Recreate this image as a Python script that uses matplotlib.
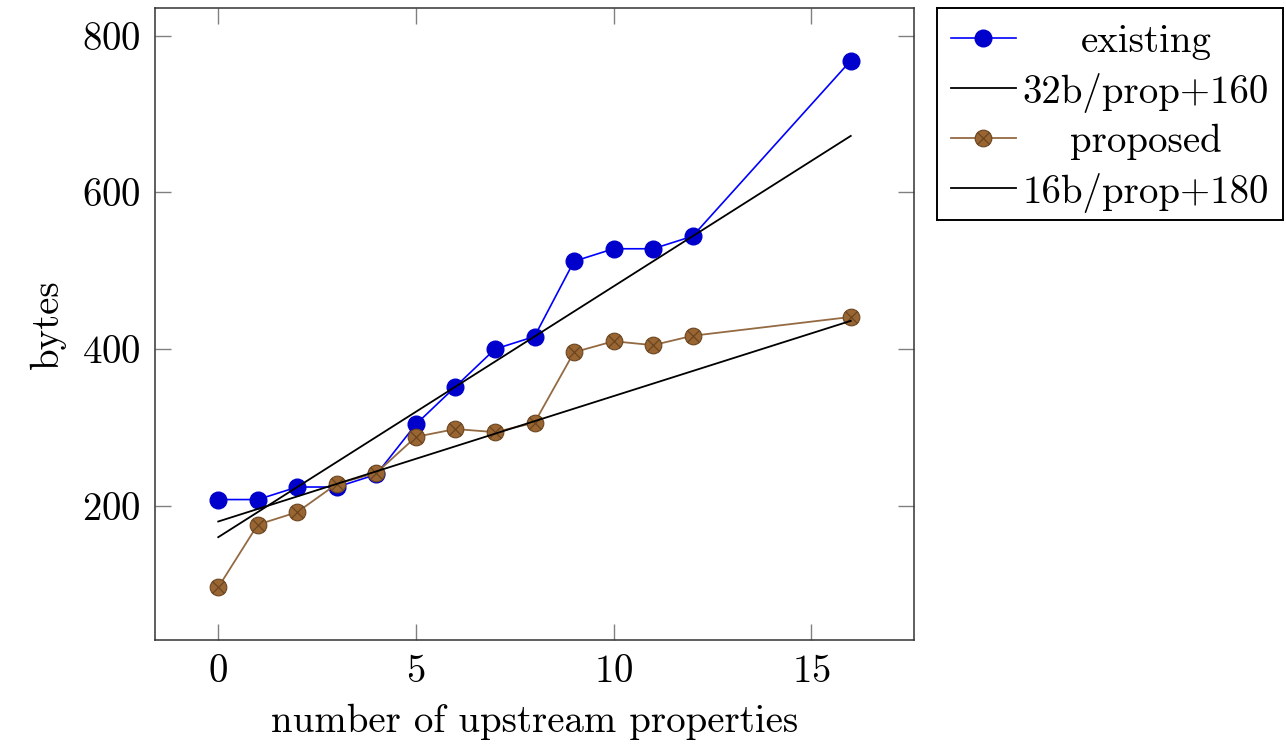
import numpy as np
import matplotlib
matplotlib.use("Agg")
import matplotlib.pyplot as plt


# ==========================================
# Data
# ==========================================

props = [0, 1, 2, 3, 4, 5, 6, 7, 8, 9, 10, 11, 12, 16]

existing_bytes = [208, 208, 224, 224, 240, 304, 352, 400, 416, 512, 528, 528, 544, 768]
proposed_bytes = [96, 176, 192, 228, 242, 288, 298, 294, 306, 396, 410, 405, 417, 441]

# linear fits drawn over the data range
fit_existing = (32, 160)   # slope, intercept
fit_proposed = (16, 180)

legend_labels = ["existing", "32b/prop+160", "proposed", "16b/prop+180"]


# ==========================================
# Style
# ==========================================

BLUE_LINE = "#0000ff"
BLUE_FILL = "#0000cc"
BROWN_LINE = "#946a42"
BROWN_FILL = "#996633"
BROWN_EDGE = "#6b4520"

plt.rcParams["font.family"] = "cmr10"
plt.rcParams["axes.formatter.use_mathtext"] = True
plt.rcParams["font.size"] = 28

W, H = 1286, 745


# ==========================================
# Main plot
# ==========================================

fig = plt.figure(figsize=(W / 100, H / 100), dpi=100)
ax = fig.add_axes([155 / W, 1 - 640 / H, (914 - 155) / W, (640 - 8) / H])

x = np.array(props)
ax.plot(x, existing_bytes, color=BLUE_LINE, lw=1.2, marker="o",
        markersize=12, markerfacecolor=BLUE_FILL, markeredgecolor=BLUE_FILL, zorder=3)

xf = np.array([props[0], props[-1]])
ax.plot(xf, fit_existing[0] * xf + fit_existing[1], color="black", lw=1.3, zorder=4)

ax.plot(x, proposed_bytes, color=BROWN_LINE, lw=1.3, marker="o",
        markersize=12, markerfacecolor=BROWN_FILL, markeredgecolor=BROWN_EDGE,
        markeredgewidth=0.8, zorder=5)
ax.plot(x, proposed_bytes, ls="none", marker="x", markersize=8,
        markeredgecolor=BROWN_EDGE, markeredgewidth=0.9, zorder=6)

ax.plot(xf, fit_proposed[0] * xf + fit_proposed[1], color="black", lw=1.3, zorder=7)

# pgfplots-style enlarged limits (10% each side)
xr = props[-1] - props[0]
ax.set_xlim(props[0] - 0.1 * xr, props[-1] + 0.1 * xr)
all_y = existing_bytes + proposed_bytes
yr = max(all_y) - min(all_y)
ax.set_ylim(min(all_y) - 0.1 * yr, max(all_y) + 0.1 * yr)

ax.set_xticks([0, 5, 10, 15])
ax.set_yticks([200, 400, 600, 800])
ax.tick_params(direction="in", length=11.5, width=1.0, color="#808080",
               top=True, right=True, pad=10)
for sp in ax.spines.values():
    sp.set_linewidth(1.1)
    sp.set_color("#333333")

ax.set_xlabel("number of upstream properties", labelpad=10)
ax.set_ylabel("bytes", labelpad=12)


# ==========================================
# Legend (pgfplots style, centred text)
# ==========================================

lax = fig.add_axes([937 / W, 1 - 220 / H, (1283 - 937) / W, (220 - 8) / H])
lax.set_xlim(0, 346)
lax.set_ylim(212, 0)
lax.set_xticks([])
lax.set_yticks([])
for sp in lax.spines.values():
    sp.set_linewidth(1.4)
    sp.set_color("black")

rows = [30, 80, 130, 180]
hx = np.array([14, 79])
lax.plot(hx, [rows[0]] * 2, color=BLUE_LINE, lw=1.2)
lax.plot([46], [rows[0]], marker="o", markersize=12, color=BLUE_FILL)
lax.plot(hx, [rows[1]] * 2, color="black", lw=1.3)
lax.plot(hx, [rows[2]] * 2, color=BROWN_LINE, lw=1.3)
lax.plot([46], [rows[2]], marker="o", markersize=12, markerfacecolor=BROWN_FILL,
         markeredgecolor=BROWN_EDGE, markeredgewidth=0.8)
lax.plot([46], [rows[2]], marker="x", markersize=8, markeredgecolor=BROWN_EDGE,
         markeredgewidth=0.9)
lax.plot(hx, [rows[3]] * 2, color="black", lw=1.3)

for ry, lab in zip(rows, legend_labels):
    lax.text(209, ry, lab, ha="center", va="center_baseline")

fig.savefig("out.png", dpi=100)
